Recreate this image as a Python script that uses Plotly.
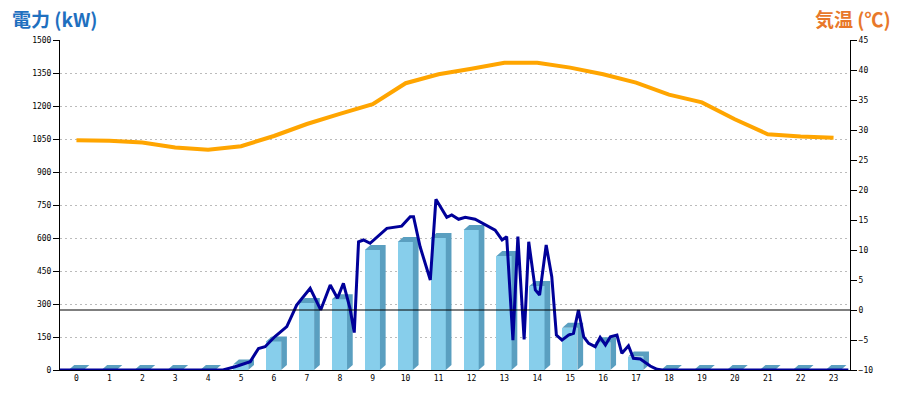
import plotly.graph_objects as go

# ---------------- data ----------------
hours = list(range(24))
hour_labels = [str(h) for h in hours]

# hourly generated energy (kW, bars)
bar_kw = [0, 0, 0, 0, 0, 25, 130, 305, 322, 545, 582, 600,
          636, 518, 382, 192, 126, 61, 0, 0, 0, 0, 0, 0]

# hourly temperature (deg C, orange line)
temp_c = [28.3, 28.2, 27.9, 27.1, 26.7, 27.3, 29.0, 31.0, 32.7, 34.3, 37.8, 39.3,
          40.2, 41.2, 41.2, 40.4, 39.3, 37.9, 35.9, 34.6, 31.8, 29.3, 28.9, 28.7]

# instantaneous power (time in hours, kW, navy line)
power_t = [0.0, 4.95, 5.32, 5.78, 6.03, 6.23, 6.53, 6.89, 7.19, 7.6, 7.92, 8.21,
           8.43, 8.61, 8.81, 8.94, 9.07, 9.22, 9.42, 9.93, 10.38, 10.64, 10.74,
           10.94, 11.25, 11.42, 11.75, 11.9, 12.11, 12.31, 12.61, 12.92, 13.22,
           13.43, 13.57, 13.76, 13.91, 14.10, 14.24, 14.44, 14.57, 14.77, 14.94,
           15.08, 15.25, 15.45, 15.6, 15.75, 15.91, 16.06, 16.26, 16.41, 16.57,
           16.72, 16.92, 17.07, 17.27, 17.42, 17.63, 17.93, 18.14, 18.3, 23.95]
power_kw = [0, 0, 15, 38, 98, 106, 152, 197, 295, 371, 273, 386,
            326, 394, 280, 170, 583, 591, 576, 644, 654, 697, 697,
            560, 409, 776, 694, 705, 685, 694, 685, 659, 636,
            591, 606, 136, 606, 139, 583, 364, 341, 568, 424,
            159, 136, 159, 167, 273, 151, 121, 106, 148, 114,
            151, 159, 76, 110, 53, 50, 18, 3, 0, 0]

# ---------------- styling constants ----------------
FRONT = "#87CEEB"
SHADE = "#5A9FC0"
NAVY = "#000099"
ORANGE = "#FFA500"
W_L, W_R = 0.24, 0.22          # front face half widths (x units)
DX = 0.173                      # depth (x units)
DY = 5 * 1500 / 330             # depth (kW, ~5px)

fig = go.Figure()

# front faces of 3D bars
fig.add_trace(go.Bar(x=hours, y=bar_kw, width=W_L + W_R, offset=-W_L,
                     marker=dict(color=FRONT, line=dict(width=0)),
                     hoverinfo="skip", showlegend=False))

# side + top faces
px, py = [], []
for c, v in zip(hours, bar_kw):
    px += [c + W_R, c + W_R + DX, c + W_R + DX, c - W_L + DX, c - W_L, c + W_R, c + W_R, None]
    py += [0, DY, v + DY, v + DY, v, v, 0, None]
fig.add_trace(go.Scatter(x=px, y=py, mode="lines", fill="toself", fillcolor=SHADE,
                         line=dict(width=0, color=SHADE), hoverinfo="skip",
                         showlegend=False))

# 0 deg C reference line
fig.add_trace(go.Scatter(x=[-0.5, 23.5], y=[0, 0], yaxis="y2", mode="lines",
                         line=dict(color="black", width=1), hoverinfo="skip",
                         showlegend=False))

# temperature line
fig.add_trace(go.Scatter(x=hours, y=temp_c, yaxis="y2", mode="lines",
                         line=dict(color=ORANGE, width=4), showlegend=False))

# power line
fig.add_trace(go.Scatter(x=[t - 0.5 for t in power_t], y=power_kw, mode="lines",
                         line=dict(color=NAVY, width=3), showlegend=False))

tick_font = dict(family="DejaVu Sans Mono", size=8, color="black")

# the page body has an 8px margin: size the figure so the plot lands at 60..850 x 40..370
fig.update_layout(
    width=892, height=392,
    margin=dict(l=52, r=50, t=32, b=30, autoexpand=False),
    plot_bgcolor="white", paper_bgcolor="white",
    bargap=0,
    xaxis=dict(range=[-0.5, 23.5], tickvals=hours, ticktext=hour_labels,
               showgrid=False, zeroline=False, showline=True, linecolor="black",
               linewidth=1, ticks="", tickfont=tick_font, fixedrange=True),
    yaxis=dict(range=[0, 1500], dtick=150, tick0=0, showgrid=True,
               gridcolor="#BBBBBB", griddash="2px,3px", gridwidth=1,
               zeroline=False, showline=True, linecolor="black", linewidth=1,
               ticks="outside", ticklen=6, tickcolor="black", tickfont=tick_font),
    yaxis2=dict(range=[-10, 45], dtick=5, tick0=-10, overlaying="y", side="right",
                showgrid=False, zeroline=False, showline=True, linecolor="black",
                linewidth=1, ticks="outside", ticklen=6, tickcolor="black",
                tickfont=tick_font),
    annotations=[
        dict(text="<b>電力 (kW)</b>", xref="paper", yref="paper",
             x=(11 - 60) / 790, y=(370 - 18) / 330, xanchor="left", yanchor="middle",
             showarrow=False, borderpad=0,
             font=dict(family="Noto Sans CJK JP", size=19, color="#1F70BF")),
        dict(text="<b>気温 (℃)</b>", xref="paper", yref="paper",
             x=(892 - 60) / 790, y=(370 - 19) / 330, xanchor="right", yanchor="middle",
             showarrow=False, borderpad=0,
             font=dict(family="Noto Sans CJK JP", size=19, color="#E8782A")),
    ],
)

fig.write_html("out.html")
